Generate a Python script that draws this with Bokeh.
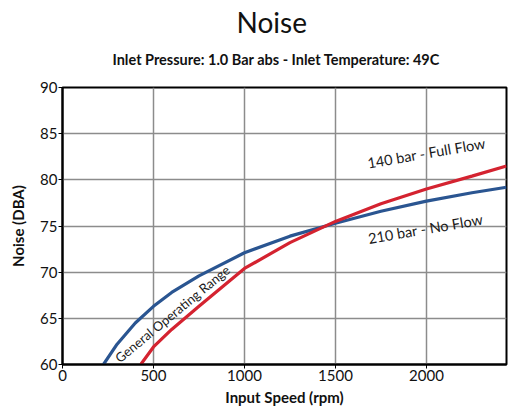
from bokeh.plotting import figure
from bokeh.models import Range1d, FixedTicker, Title, Label, ColumnDataSource
from bokeh.core.properties import value
from bokeh.embed import file_html
from bokeh.resources import INLINE

# Data
rpm_140 = [430, 500, 600, 750, 1000, 1250, 1500, 1750, 2000, 2250, 2440]
noise_140 = [60.0, 61.9, 63.8, 66.3, 70.4, 73.2, 75.5, 77.4, 79.0, 80.4, 81.5]

rpm_210 = [225, 300, 400, 500, 600, 750, 1000, 1250, 1500, 1750, 2000, 2250, 2440]
noise_210 = [60.0, 62.2, 64.5, 66.3, 67.8, 69.6, 72.1, 73.9, 75.3, 76.6, 77.7, 78.6, 79.2]

x_ticks = [0, 500, 1000, 1500, 2000]
y_ticks = [60, 65, 70, 75, 80, 85, 90]

label_text = ["140 bar - Full Flow", "210 bar - No Flow", "General Operating Range"]
label_x = [2000, 1995, 604]
label_y = [82.9, 74.7, 65.5]
label_angle = [0.17, 0.17, 0.69]
label_size = ["14.5px", "14.5px", "13px"]

title_text = "Noise"
subtitle_text = "Inlet Pressure: 1.0 Bar abs - Inlet Temperature: 49C"
code_text = "P108 463E"

FONT = "Lato"

p = figure(width=514, height=411, output_backend="svg", toolbar_location=None,
           x_range=Range1d(0, 2440), y_range=Range1d(60, 90),
           min_border_left=62, min_border_right=8, min_border_bottom=47, min_border_top=87)

# spacer between the frame and the subtitle
p.add_layout(Title(text=" ", text_font_size="8px", standoff=0), "above")
p.add_layout(Title(text=subtitle_text, align="left", offset=50, text_font=FONT,
                   text_font_size="14.5px", standoff=18, text_font_style="bold",
                   text_color="#111111"), "above")
p.add_layout(Title(text=title_text, align="left", offset=174, text_font=FONT,
                   text_font_size="28px", standoff=2, text_font_style="normal",
                   text_color="#111111"), "above")

p.line(rpm_210, noise_210, line_color="#2a5591", line_width=3.2)
p.line(rpm_140, noise_140, line_color="#d42330", line_width=3.2)

src = ColumnDataSource(dict(x=label_x, y=label_y, t=label_text, a=label_angle, s=label_size))
p.text(x="x", y="y", text="t", angle="a", source=src, text_align="center",
       text_baseline="middle", text_font=value(FONT), text_font_size="s",
       text_color="#1a1a1a")

p.xaxis.ticker = FixedTicker(ticks=x_ticks)
p.yaxis.ticker = FixedTicker(ticks=y_ticks)
p.xgrid.ticker = FixedTicker(ticks=x_ticks)
p.ygrid.ticker = FixedTicker(ticks=y_ticks)
for ax in (p.xaxis[0], p.yaxis[0]):
    ax.major_label_text_font = FONT
    ax.major_label_text_font_size = "15px"
    ax.major_label_text_color = "#111111"
    ax.axis_label_text_font = FONT
    ax.axis_label_text_font_size = "15px"
    ax.axis_label_text_font_style = "bold"
    ax.axis_label_text_color = "#111111"
    ax.axis_line_color = "black"
    ax.axis_line_width = 2
    ax.major_tick_line_color = "black"
    ax.major_tick_in = 0
    ax.major_tick_out = 4
    ax.minor_tick_line_color = None
    ax.major_label_standoff = 1
p.xaxis.axis_label = "Input Speed (rpm)"
p.yaxis.axis_label = "Noise (DBA)"
p.xaxis.axis_label_standoff = 4
p.yaxis.axis_label_standoff = 10

p.grid.grid_line_color = "#8c8c8c"
p.grid.grid_line_width = 1.5
p.outline_line_color = "black"
p.outline_line_width = 2

p.add_layout(Label(x=2440, y=60, x_units="data", y_units="data", text=code_text,
                   text_align="right", text_baseline="top", y_offset=-26,
                   text_font=FONT, text_font_size="14px", text_color="#111111"))

open("out.html", "w").write(file_html(p, INLINE))
